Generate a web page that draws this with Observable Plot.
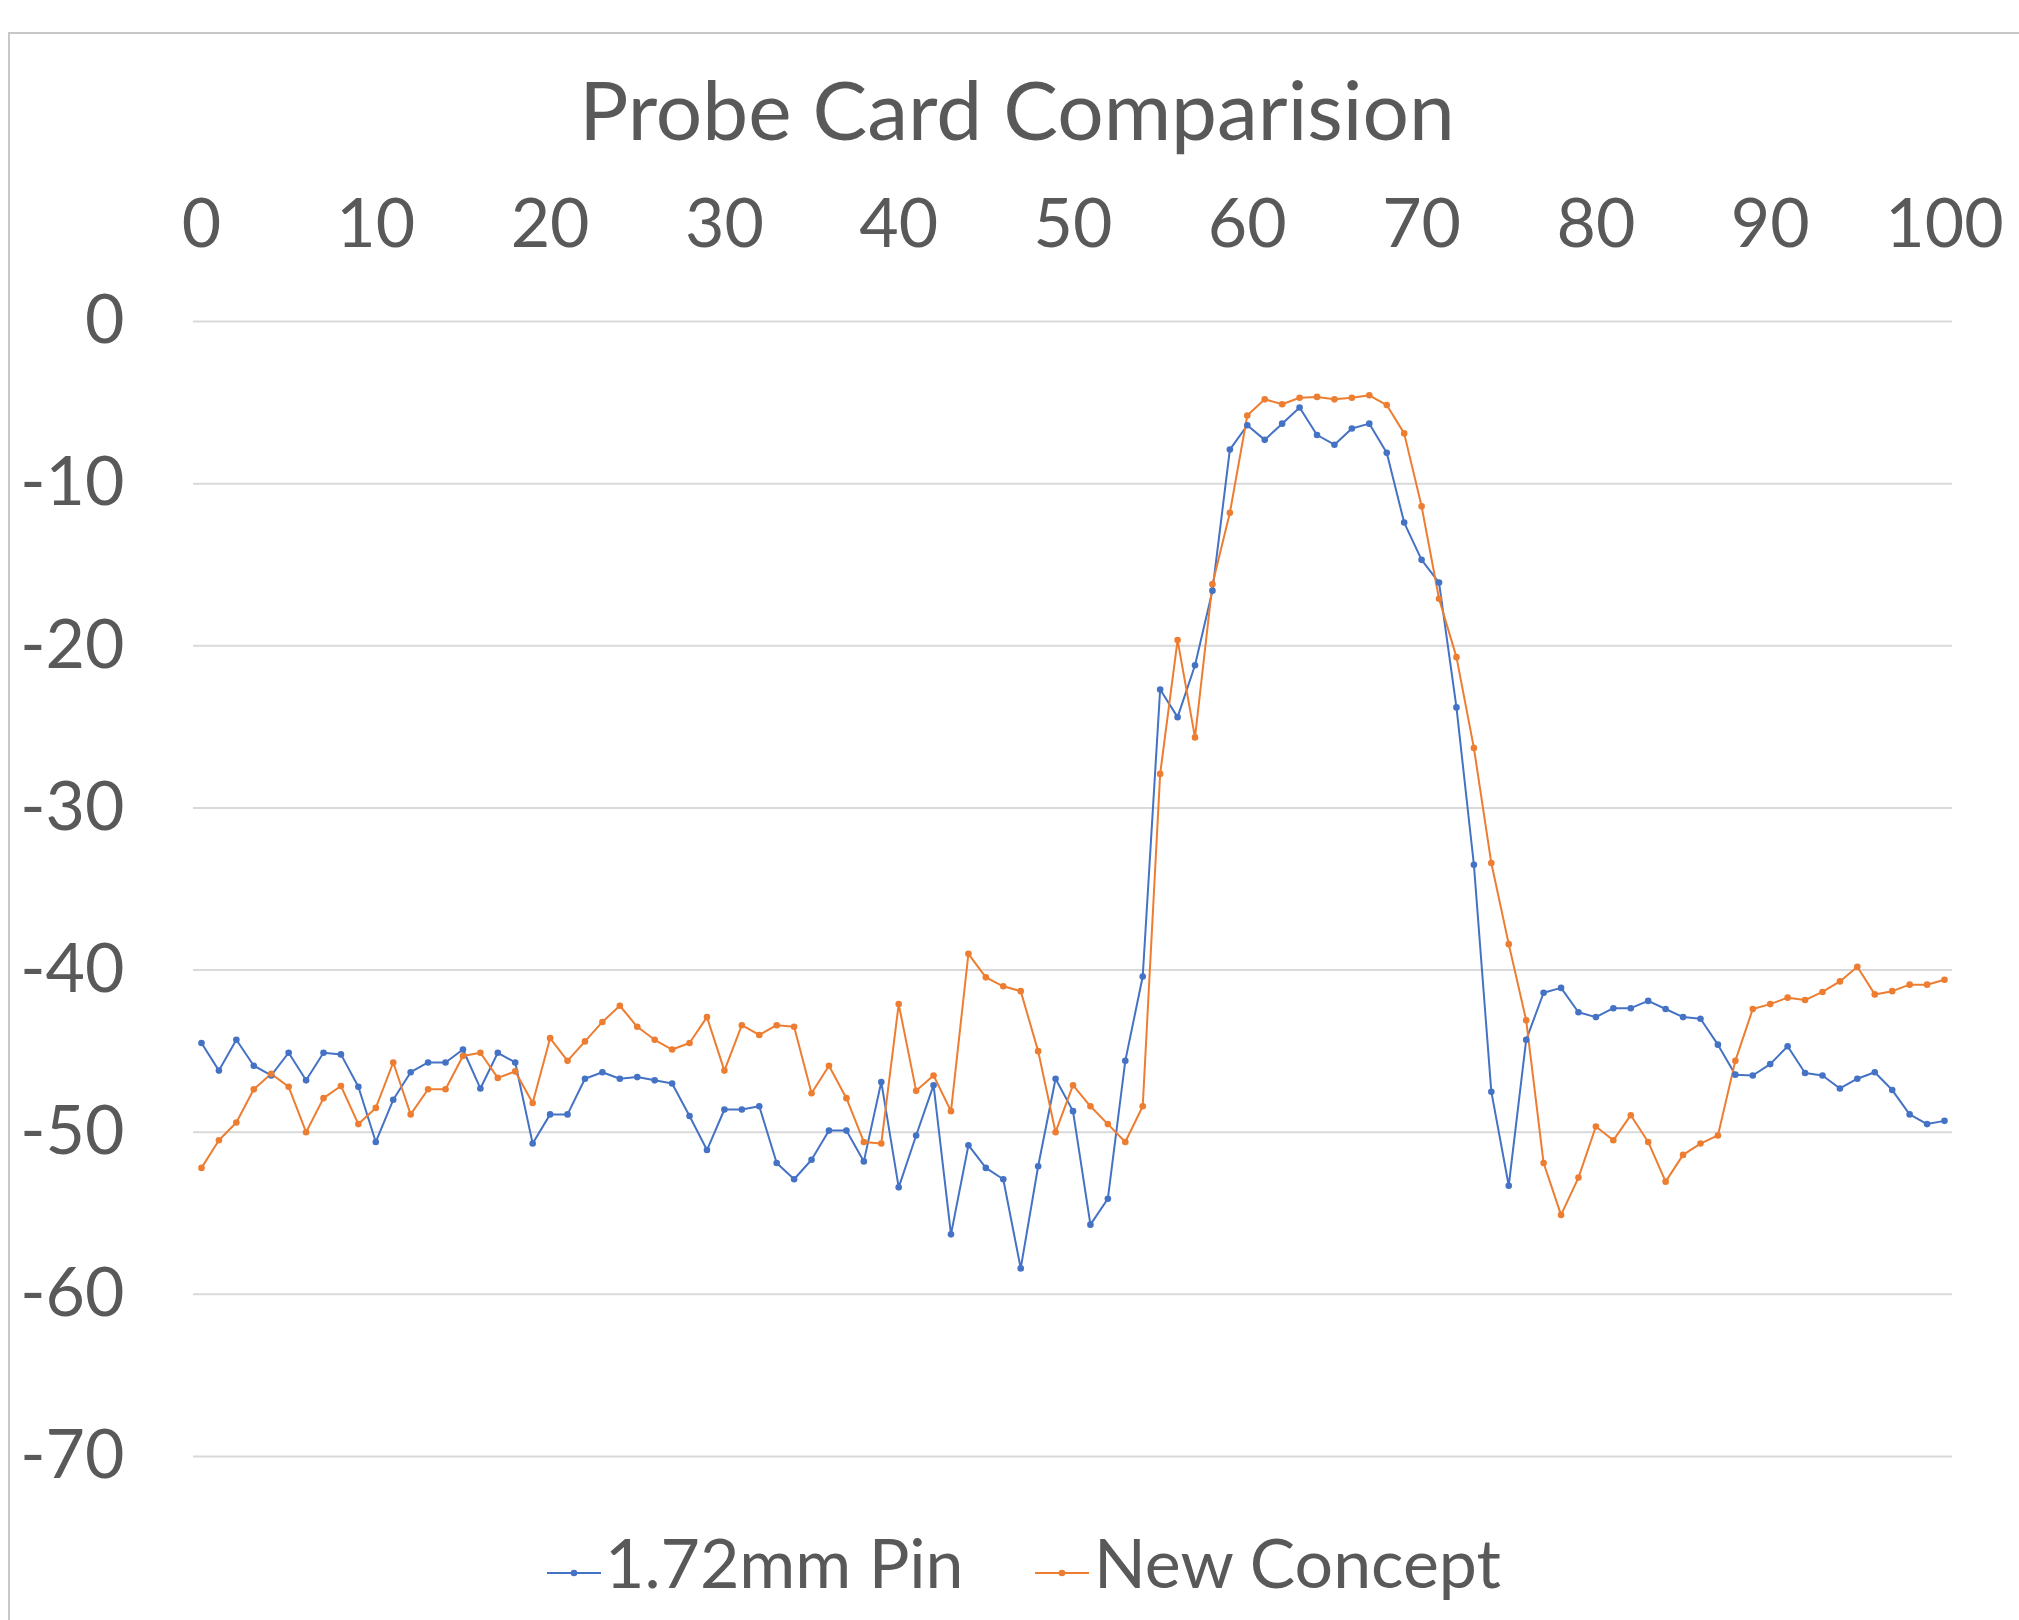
<!DOCTYPE html>
<html>
<head>
<meta charset="utf-8">
<script src="https://cdn.jsdelivr.net/npm/d3@7"></script>
<script src="https://cdn.jsdelivr.net/npm/@observablehq/plot@0.6"></script>
<style>
  html, body { margin: 0; padding: 0; background: #ffffff; }
  #page { position: relative; width: 2019px; height: 1620px; overflow: hidden; font-family: Lato, "Open Sans", sans-serif; color: #595959; }
  #frame { position: absolute; left: 8px; top: 32px; width: 2100px; height: 1700px; border-top: 2px solid #c8c8c8; border-left: 2px solid #c8c8c8; }
  #title { position: absolute; left: 1017px; top: 67px; transform: translateX(-50%); font-size: 82px; line-height: 1; white-space: nowrap; }
  #chart { position: absolute; left: 0; top: 150px; }
  .leg { position: absolute; top: 1528px; font-size: 68px; line-height: 1; white-space: nowrap; }
  .sym { position: absolute; top: 1563px; }
</style>
</head>
<body>
<div id="page">
  <div id="frame"></div>
  <div id="title"></div>
  <div id="chart"></div>
  <div id="legend"></div>
</div>
<script>
const chartTitle = "Probe Card Comparision";
const seriesNames = ["1.72mm Pin", "New Concept"];
const seriesColors = ["#4472C4", "#ED7D31"];
const xTicks = [0, 10, 20, 30, 40, 50, 60, 70, 80, 90, 100];
const yTicks = [0, -10, -20, -30, -40, -50, -60, -70];

const pin172 = [
  -44.5, -46.2, -44.3, -45.9, -46.5, -45.1, -46.8, -45.1, -45.2, -47.2,
  -50.6, -48.0, -46.3, -45.7, -45.7, -44.9, -47.3, -45.1, -45.7, -50.7,
  -48.9, -48.9, -46.7, -46.3, -46.7, -46.6, -46.8, -47.0, -49.0, -51.1,
  -48.6, -48.6, -48.4, -51.9, -52.9, -51.7, -49.9, -49.9, -51.8, -46.9,
  -53.4, -50.2, -47.1, -56.3, -50.8, -52.2, -52.9, -58.4, -52.1, -46.7,
  -48.7, -55.7, -54.1, -45.6, -40.4, -22.7, -24.4, -21.2, -16.6, -7.9,
  -6.4, -7.3, -6.3, -5.3, -7.0, -7.6, -6.6, -6.3, -8.1, -12.4,
  -14.7, -16.1, -23.8, -33.5, -47.5, -53.3, -44.3, -41.4, -41.1, -42.6,
  -42.9, -42.35, -42.35, -41.9, -42.4, -42.9, -43.0, -44.6, -46.45, -46.5,
  -45.8, -44.7, -46.35, -46.5, -47.3, -46.7, -46.3, -47.4, -48.9, -49.5,
  -49.3
];

const newConcept = [
  -52.2, -50.5, -49.4, -47.35, -46.4, -47.2, -50.0, -47.9, -47.15, -49.5,
  -48.5, -45.7, -48.9, -47.35, -47.35, -45.3, -45.1, -46.65, -46.25, -48.2,
  -44.2, -45.6, -44.4, -43.2, -42.2, -43.5, -44.3, -44.9, -44.5, -42.9,
  -46.2, -43.4, -44.0, -43.4, -43.5, -47.6, -45.9, -47.9, -50.6, -50.7,
  -42.1, -47.45, -46.5, -48.7, -39.0, -40.45, -41.0, -41.3, -45.0, -50.0,
  -47.1, -48.4, -49.5, -50.6, -48.4, -27.9, -19.65, -25.65, -16.2, -11.8,
  -5.8, -4.8, -5.1, -4.7, -4.65, -4.8, -4.7, -4.55, -5.15, -6.9,
  -11.4, -17.1, -20.7, -26.3, -33.4, -38.4, -43.1, -51.9, -55.1, -52.8,
  -49.65, -50.5, -48.95, -50.6, -53.05, -51.4, -50.7, -50.2, -45.6, -42.4,
  -42.1, -41.7, -41.85, -41.35, -40.7, -39.8, -41.5, -41.3, -40.9, -40.9,
  -40.6
];

const rows = [];
pin172.forEach((v, i) => rows.push({x: i, y: v, s: seriesNames[0]}));
newConcept.forEach((v, i) => rows.push({x: i, y: v, s: seriesNames[1]}));

document.getElementById("title").textContent = chartTitle;

const plot = Plot.plot({
  width: 2019,
  height: 1350,
  marginTop: 171,
  marginBottom: 44,
  marginLeft: 193,
  marginRight: 67,
  style: { fontFamily: "Lato, 'Open Sans', sans-serif", fontSize: "68px", color: "#595959", background: "transparent" },
  x: { domain: [0, 100], insetLeft: 8, insetRight: 8 },
  y: { domain: [-70, 0] },
  color: { domain: seriesNames, range: seriesColors },
  marks: [
    Plot.gridY(yTicks, { stroke: "#d9d9d9", strokeOpacity: 1, strokeWidth: 2 }),
    Plot.axisX(xTicks, { anchor: "top", tickSize: 0, tickPadding: 96, lineAnchor: "middle", label: null, fill: "#595959", tickFormat: d => String(d) }),
    Plot.axisY(yTicks, { anchor: "left", tickSize: 0, tickPadding: 69, label: null, fill: "#595959", tickFormat: d => String(d) }),
    Plot.line(rows, { x: "x", y: "y", z: "s", stroke: "s", strokeWidth: 2 }),
    Plot.dot(rows, { x: "x", y: "y", fill: "s", r: 3.3, stroke: null })
  ]
});
document.getElementById("chart").appendChild(plot);

// Legend below the chart
const legend = document.getElementById("legend");
const legSymX = [547, 1035];
const legTextX = [605, 1094];
seriesNames.forEach((name, k) => {
  const ns = "http://www.w3.org/2000/svg";
  const svg = document.createElementNS(ns, "svg");
  svg.setAttribute("width", 54);
  svg.setAttribute("height", 20);
  svg.setAttribute("class", "sym");
  svg.style.left = legSymX[k] + "px";
  const ln = document.createElementNS(ns, "line");
  ln.setAttribute("x1", 0); ln.setAttribute("x2", 54);
  ln.setAttribute("y1", 10); ln.setAttribute("y2", 10);
  ln.setAttribute("stroke", seriesColors[k]); ln.setAttribute("stroke-width", 2);
  const c = document.createElementNS(ns, "circle");
  c.setAttribute("cx", 27); c.setAttribute("cy", 10); c.setAttribute("r", 3.3);
  c.setAttribute("fill", seriesColors[k]);
  svg.appendChild(ln); svg.appendChild(c);
  legend.appendChild(svg);
  const t = document.createElement("div");
  t.className = "leg";
  t.style.left = legTextX[k] + "px";
  t.textContent = name;
  legend.appendChild(t);
});
</script>
</body>
</html>
